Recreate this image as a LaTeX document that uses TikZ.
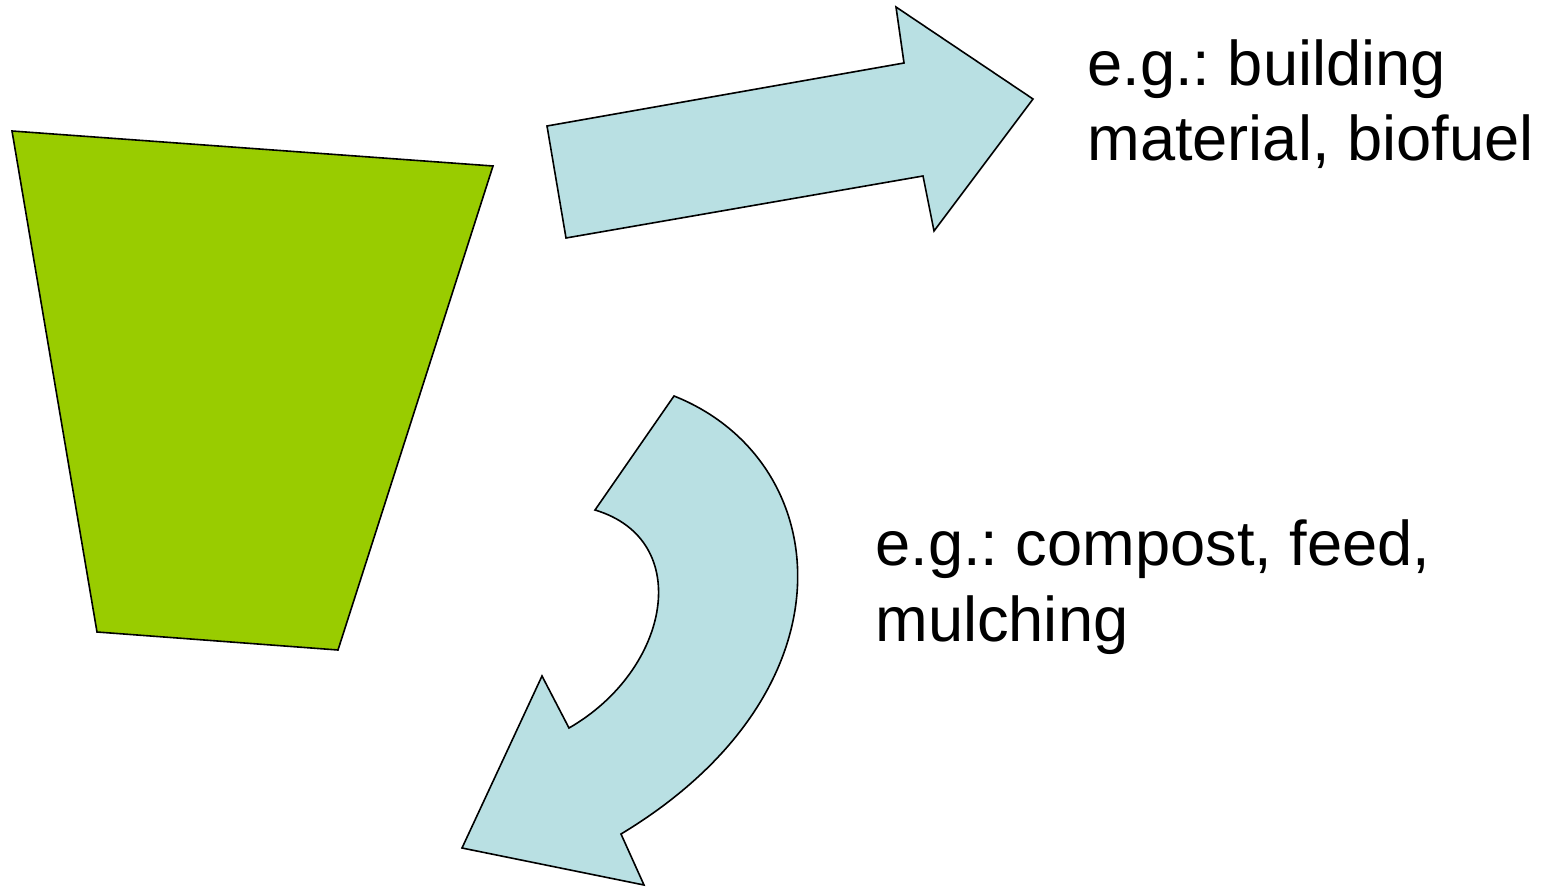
\documentclass[tikz,border=0pt]{standalone}
\usepackage{fontspec}
\setmainfont{Liberation Sans}
\frenchspacing
\definecolor{leafgreen}{RGB}{153,204,0}
\definecolor{arrowblue}{RGB}{185,224,227}
\tikzset{
  outline/.style={draw=black, line width=0.8pt, line join=miter},
  usetext/.style={anchor=base west, inner sep=0pt, align=left,
    font=\fontsize{31.6}{37.8}\selectfont}
}
\begin{document}
\begin{tikzpicture}[x=0.5pt, y=-0.5pt]
\useasboundingbox (0,0) rectangle (1545,887);
% plant part
\draw[outline, fill=leafgreen] (12,131)--(493,166)--(338,650)--(97,632)--cycle;

% straight arrow: use outside
\draw[outline, fill=arrowblue] (547,126)--(904,63)--(896,7)--(1033,99)--(934,231)--(923,176)--(566,238)--cycle;
\node[usetext] (usea) at (1087,161) {e.g.: building\\material, biofuel};

% bent arrow: back to the field
\draw[outline, fill=arrowblue] (674,396) .. controls (835,460) and (860,690) .. (621,834)
  --(644,885)--(462,848)--(542,676)--(569,728)
  .. controls (670,670) and (695,540) .. (595,510)--cycle;
\node[usetext] (useb) at (875,641) {e.g.: compost, feed,\\mulching};

\end{tikzpicture}
\end{document}
